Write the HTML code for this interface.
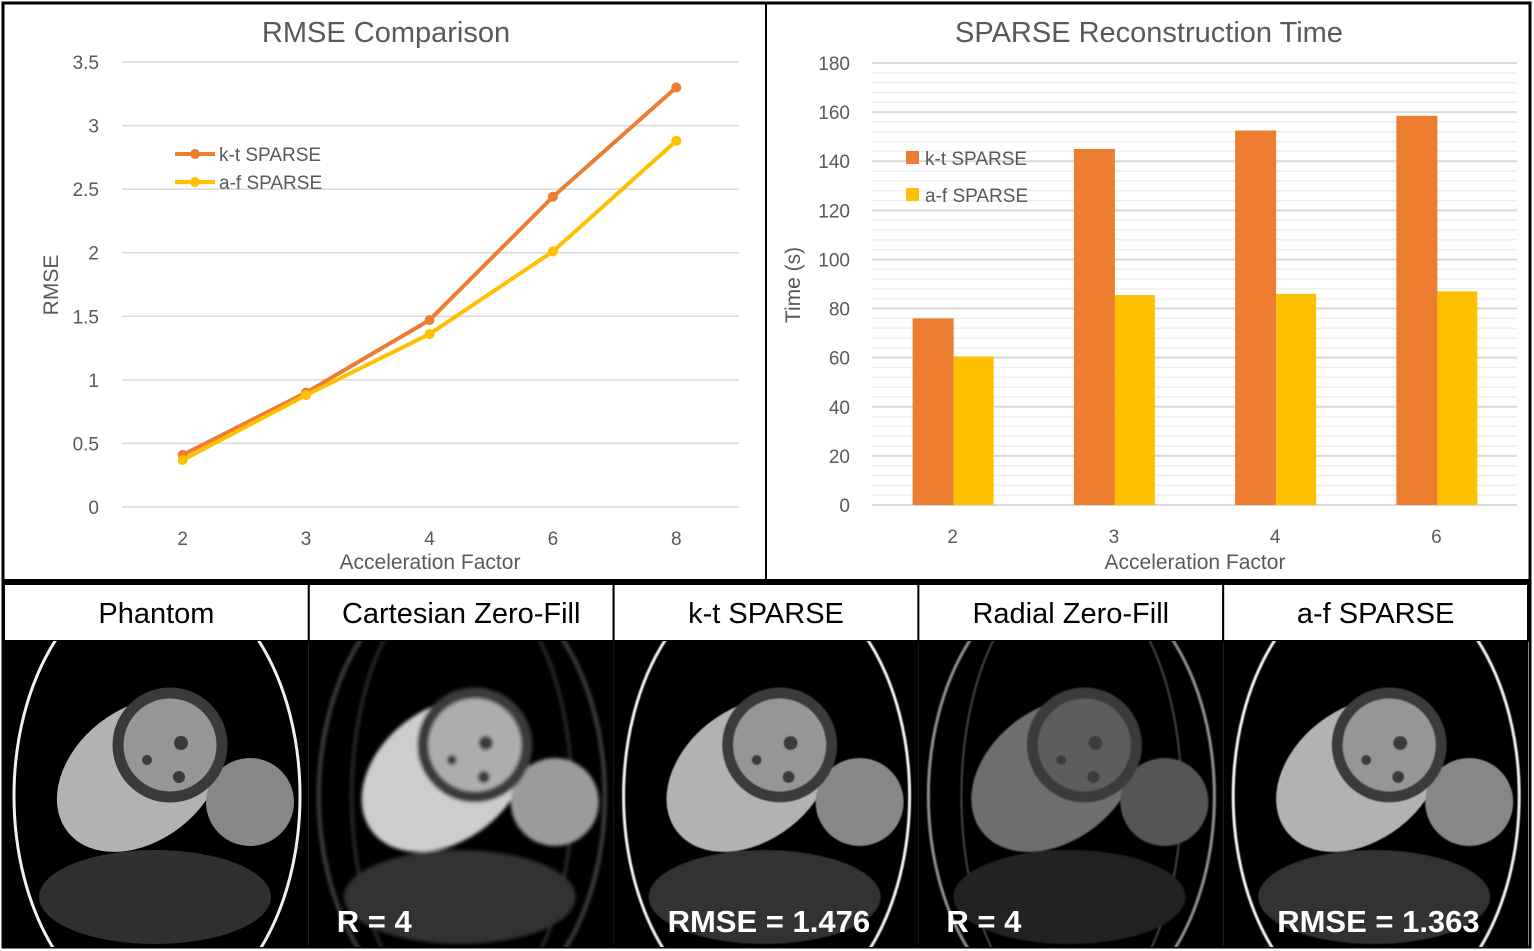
<!DOCTYPE html>
<html><head><meta charset="utf-8"><style>
html,body{margin:0;width:1534px;height:951px;background:#fff;overflow:hidden;font-family:"Liberation Sans",sans-serif}
svg{position:absolute;left:0;top:0;overflow:hidden}
</style></head><body>
<svg id="root" width="1534" height="951">
<rect x="3" y="3" width="1527" height="944" fill="#fff" stroke="#000" stroke-width="3"/>
<line x1="766" y1="3" x2="766" y2="581" stroke="#000" stroke-width="2"/>
<line x1="3" y1="581" x2="1530" y2="581" stroke="#000" stroke-width="4"/>
<g id="lineChart"></g>
<g id="barChart"></g>
<g id="panels"></g>
</svg>
<script>
const lineCats=["2","3","4","6","8"];
const ktRmse=[0.41,0.9,1.47,2.44,3.3];
const afRmse=[0.37,0.88,1.36,2.01,2.88];
const rmseTicks=[0,0.5,1,1.5,2,2.5,3,3.5];
const barCats=["2","3","4","6"];
const ktTime=[76,145,152.5,158.5];
const afTime=[60.5,85.5,86,87];
const timeTicks=[0,20,40,60,80,100,120,140,160,180];
const panelTitles=["Phantom","Cartesian Zero-Fill","k-t SPARSE","Radial Zero-Fill","a-f SPARSE"];
const panelLabels=["","R = 4","RMSE = 1.476","R = 4","RMSE = 1.363"];

const NS="http://www.w3.org/2000/svg";
function mk(p,t,a,txt){const e=document.createElementNS(NS,t);for(const k in a)e.setAttribute(k,a[k]);if(txt!==undefined)e.textContent=txt;p.appendChild(e);return e;}
const F='"Liberation Sans", sans-serif';

// line chart
const L=document.getElementById('lineChart');
const lx0=122,lx1=739,ly0=507,ly1=62;
const ly=v=>ly0-(v/3.5)*(ly0-ly1);
const lbw=(lx1-lx0)/lineCats.length;
const lx=i=>lx0+lbw*(i+0.5)-1;
let t=mk(L,'text',{x:386,y:42,'text-anchor':'middle','font-size':29,fill:'#595959','font-family':F},'RMSE Comparison');

rmseTicks.forEach(v=>{
  const g=mk(L,'line',{x1:lx0,x2:lx1,y1:ly(v),y2:ly(v),stroke:'#d9d9d9','stroke-width':1.5});
  
  const tl=mk(L,'text',{x:99,y:ly(v)+7,'text-anchor':'end','font-size':19,fill:'#595959','font-family':F},String(v));
  
});
lineCats.forEach((c,i)=>{
  const tl=mk(L,'text',{x:lx(i),y:545,'text-anchor':'middle','font-size':19,fill:'#595959','font-family':F},c);
  
});
t=mk(L,'text',{x:430,y:569,'text-anchor':'middle','font-size':21,fill:'#595959','font-family':F},'Acceleration Factor');

t=mk(L,'text',{x:58,y:285,'text-anchor':'middle','font-size':21,fill:'#595959','font-family':F,transform:'rotate(-90 58 285)'},'RMSE');

[[ktRmse,'#ed7d31','kt'],[afRmse,'#ffc000','af']].forEach(([arr,col,n])=>{
  const p=mk(L,'polyline',{points:arr.map((v,i)=>lx(i)+','+ly(v)).join(' '),fill:'none',stroke:col,'stroke-width':4});
  
  arr.forEach((v,i)=>{const c=mk(L,'circle',{cx:lx(i),cy:ly(v),r:5,fill:col});
    });
});
[['k-t SPARSE','#ed7d31',154],['a-f SPARSE','#ffc000',182]].forEach(([s,col,y])=>{
  const g=mk(L,'g',{});
  mk(g,'line',{x1:175,x2:215,y1:y,y2:y,stroke:col,'stroke-width':4});
  mk(g,'circle',{cx:195,cy:y,r:5,fill:col});
  mk(g,'text',{x:219,y:y+7,'font-size':19,fill:'#595959','font-family':F},s);
});

// bar chart
const B=document.getElementById('barChart');
const bx0=872,bx1=1517,by0=505,by1=63;
const by=v=>by0-(v/180)*(by0-by1);
const bcw=(bx1-bx0)/barCats.length;
t=mk(B,'text',{x:1149,y:42,'text-anchor':'middle','font-size':29,fill:'#595959','font-family':F},'SPARSE Reconstruction Time');

for(let v=0;v<=180;v+=4){mk(B,'line',{x1:bx0,x2:bx1,y1:by(v),y2:by(v),stroke:'#efefef','stroke-width':1.5});}
timeTicks.forEach(v=>{
  const g=mk(B,'line',{x1:bx0,x2:bx1,y1:by(v),y2:by(v),stroke:'#d9d9d9','stroke-width':2});
  
  const tl=mk(B,'text',{x:850,y:by(v)+7,'text-anchor':'end','font-size':19,fill:'#595959','font-family':F},String(v));
  
});
barCats.forEach((c,i)=>{
  const cx=bx0+bcw*(i+0.5);
  const r1=mk(B,'rect',{x:cx-40,y:by(ktTime[i]),width:41,height:by0-by(ktTime[i]),fill:'#ed7d31'});
  
  const r2=mk(B,'rect',{x:cx+1,y:by(afTime[i]),width:40,height:by0-by(afTime[i]),fill:'#ffc000'});
  
  const tl=mk(B,'text',{x:cx,y:543,'text-anchor':'middle','font-size':19,fill:'#595959','font-family':F},c);
  
});
t=mk(B,'text',{x:1195,y:569,'text-anchor':'middle','font-size':21,fill:'#595959','font-family':F},'Acceleration Factor');

t=mk(B,'text',{x:800,y:285,'text-anchor':'middle','font-size':21,fill:'#595959','font-family':F,transform:'rotate(-90 800 285)'},'Time (s)');

[['k-t SPARSE','#ed7d31',158],['a-f SPARSE','#ffc000',195]].forEach(([s,col,y])=>{
  const g=mk(B,'g',{});
  mk(g,'rect',{x:906,y:y-7,width:13,height:13,fill:col});
  mk(g,'text',{x:925,y:y+7,'font-size':19,fill:'#595959','font-family':F},s);
});

// image panels
const P=document.getElementById('panels');
const pw=304.8;
const styles=[
 {k:1,blur:0,ring:1},{k:1.15,blur:1.8,ring:0.35},{k:1,blur:0.6,ring:1},{k:0.62,blur:0.8,ring:0.6},{k:1,blur:0.6,ring:1}];
const defs=mk(P,'defs',{});
styles.forEach((s,i)=>{const f=mk(defs,'filter',{id:'bl'+i,x:'-10%',y:'-10%',width:'120%',height:'120%'});mk(f,'feGaussianBlur',{stdDeviation:s.blur});
  const c=mk(defs,'clipPath',{id:'cp'+i});mk(c,'rect',{x:4+i*pw,y:641,width:pw,height:306});});
const gray=(v,k)=>{const x=Math.min(255,Math.round(v*k));return `rgb(${x},${x},${x})`;};
panelTitles.forEach((ttl,i)=>{
  const x0=4+i*pw,s=styles[i];
  const g=mk(P,'g',{});
  mk(g,'rect',{x:x0,y:584,width:pw,height:57,fill:'#fff',stroke:'#000','stroke-width':2});
  mk(g,'text',{x:x0+pw/2,y:623,'text-anchor':'middle','font-size':29,fill:'#000','font-family':'"Liberation Sans", "DejaVu Sans", sans-serif'},ttl);
  mk(g,'rect',{x:x0,y:641,width:pw,height:306,fill:'#000'});
  const im=mk(g,'g',{'clip-path':`url(#cp${i})`});
  const q=mk(im,'g',{transform:`translate(${x0},641)`,filter:`url(#bl${i})`});
  mk(q,'ellipse',{cx:153,cy:155,rx:143,ry:221,fill:'none',stroke:gray(240,s.ring),'stroke-width':3});
  if(i===1||i===3){mk(q,'ellipse',{cx:153,cy:155,rx:110,ry:221,fill:'none',stroke:gray(70,1),'stroke-width':2});}
  mk(q,'ellipse',{cx:151,cy:256,rx:116,ry:47,fill:gray(48,i===3?0.7:1)});
  mk(q,'ellipse',{cx:136,cy:134,rx:92,ry:66,fill:gray(178,s.k),transform:'rotate(-38 136 134)'});
  mk(q,'circle',{cx:246,cy:161,r:44,fill:gray(135,s.k)});
  mk(q,'circle',{cx:166,cy:104,r:52,fill:gray(150,s.k),stroke:gray(58,1),'stroke-width':11});
  mk(q,'circle',{cx:177,cy:102,r:7,fill:gray(58,1)});
  mk(q,'circle',{cx:143,cy:119,r:5,fill:gray(58,1)});
  mk(q,'circle',{cx:175,cy:136,r:6,fill:gray(58,1)});
  if(panelLabels[i]){
    const lt=mk(g,'text',{x:x0+(i%2?28:54),y:932,'font-size':31,'font-weight':'bold',fill:'#fff','font-family':F},panelLabels[i]);
    
  }
});
</script>
</body></html>
